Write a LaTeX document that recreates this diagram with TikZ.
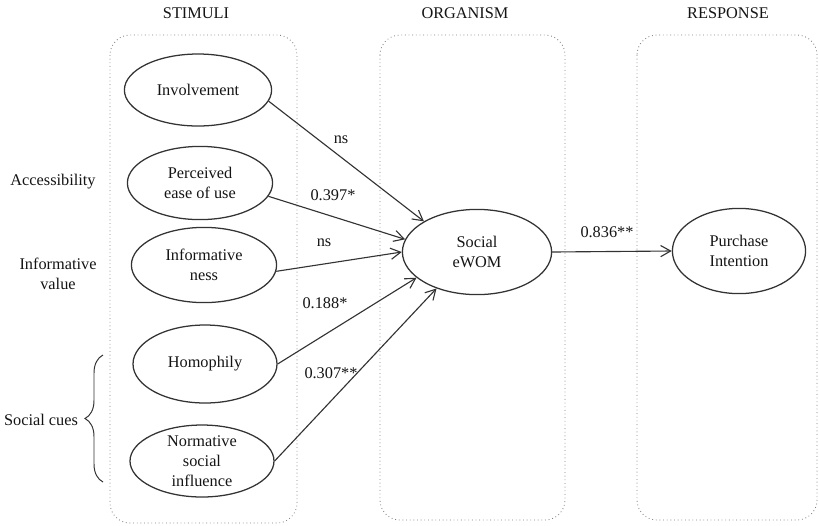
\documentclass[tikz,border=0pt]{standalone}
\usepackage{fontspec}
\setmainfont{Liberation Serif}
\usetikzlibrary{shapes.geometric,arrows.meta,decorations.pathreplacing}

\begin{document}
\begin{tikzpicture}[scale=0.25, font=\fontsize{11.6}{14.2}\selectfont]
      \tikzstyle{every node}+=[inner sep=0pt, text=black!92]
      \tikzstyle{construct}=[draw=black!80, line width=0.9pt, ellipse, minimum width=3.63cm, minimum height=1.85cm, align=center]
      \tikzstyle{panel}=[draw=black!50, dotted, line width=0.6pt, rounded corners=0.5cm]
      \tikzstyle{link}=[draw=black!80, line width=0.8pt, -{Straight Barb[length=2.5mm,width=2.8mm]}]
      \tikzstyle{cuebrace}=[draw=black!80, line width=0.7pt, decorate, decoration={brace, amplitude=0.45cm}]
      \useasboundingbox (0,0) rectangle (81.9,-52.5);
      \draw [panel] (11.0,-3.5) rectangle (29.7,-52.3);
      \draw [panel] (38.0,-3.5) rectangle (56.5,-52.0);
      \draw [panel] (63.7,-3.5) rectangle (81.7,-52.0);
      \node (stim) at (19.6,-1.3) {STIMULI};
      \node (orga) at (46.5,-1.3) {ORGANISM};
      \node (resp) at (72.8,-1.3) {RESPONSE};
      \node [construct, minimum width=3.68cm, minimum height=1.8cm] (inv) at (19.8,-9.0) {Involvement};
      \node [construct, minimum height=1.83cm] (peou) at (20.0,-18.3) {Perceived\\ease of use};
      \node [construct, minimum height=1.88cm] (info) at (20.4,-26.5) {Informative\\ness};
      \node [construct, minimum width=3.6cm, minimum height=1.95cm] (homo) at (20.5,-36.4) {Homophily};
      \node [construct, minimum width=3.6cm, minimum height=1.8cm] (nsi) at (20.2,-46.1) {Normative\\social\\influence};
      \node [construct, minimum width=3.73cm, minimum height=2.13cm] (ewom) at (47.7,-25.2) {Social\\eWOM};
      \node [construct, minimum width=3.33cm, minimum height=2.13cm] (pi) at (73.9,-25.1) {Purchase\\Intention};
      \node (acc) at (5.3,-18.2) {Accessibility};
      \node [align=center] (infv) at (5.8,-27.4) {Informative\\value};
      \node (cues) at (4.1,-42.0) {Social cues};
      \draw [cuebrace] (10.3,-48.2) -- (10.3,-35.5);
      \draw [link] (inv.-9) -- (ewom.150);
      \draw [link] (peou.-11) -- (ewom.170);
      \draw [link] (info.-5) -- (ewom.180);
      \draw [link] (homo.0) -- (ewom.203);
      \draw [link] (nsi.0) -- (ewom.222);
      \draw [link] (ewom.east) -- (pi.west);
      \node (c1) at (34.1,-14.0) {ns};
      \node (c2) at (33.3,-19.5) {0.397*};
      \node (c3) at (32.4,-24.3) {ns};
      \node (c4) at (32.5,-30.3) {0.188*};
      \node (c5) at (33.1,-37.3) {0.307**};
      \node (c6) at (60.7,-23.2) {0.836**};
    \end{tikzpicture}
\end{document}
